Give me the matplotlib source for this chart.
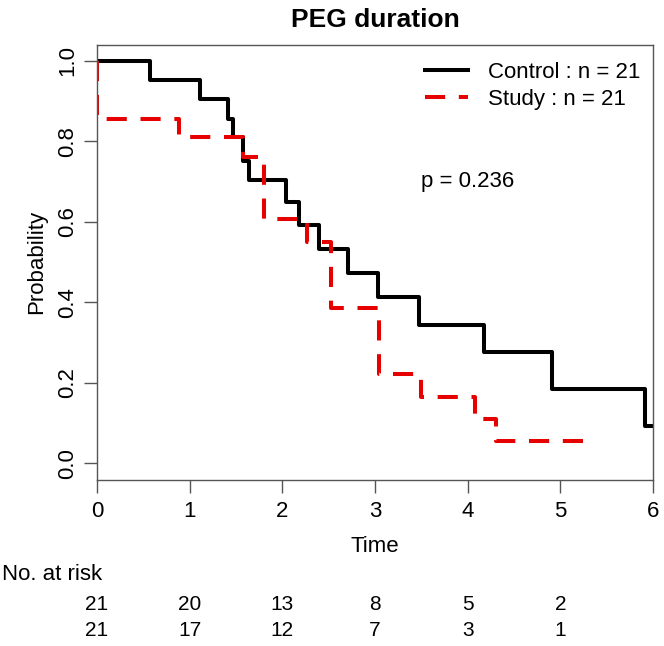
import numpy as np
import matplotlib.pyplot as plt
import matplotlib.transforms as mtransforms

plt.rcParams['font.family'] = ['Liberation Sans', 'DejaVu Sans']

# Kaplan-Meier steps (time, survival after the step)
ctrl_t = [0, 0.57, 1.11, 1.41, 1.47, 1.58, 1.64, 2.04, 2.18, 2.40, 2.71, 3.03, 3.48, 4.18, 4.91, 5.91, 5.99]
ctrl_s = [1.0, 0.952, 0.905, 0.857, 0.810, 0.752, 0.704, 0.650, 0.592, 0.532, 0.473, 0.414, 0.345, 0.276, 0.184, 0.092, 0.092]
study_t = [0, 0, 0.88, 1.575, 1.80, 2.27, 2.53, 3.04, 3.50, 4.08, 4.31, 5.27]
study_s = [1.0, 0.857, 0.810, 0.762, 0.607, 0.551, 0.385, 0.221, 0.166, 0.110, 0.055, 0.055]

risk_times = [0, 1, 2, 3, 4, 5]
risk_ctrl = [21, 20, 13, 8, 5, 2]
risk_study = [21, 17, 12, 7, 3, 1]

W, H = 664, 646
fs = 16
fig = plt.figure(figsize=(W / 100, H / 100), dpi=100)
ax = fig.add_axes([97 / W, 1 - 480 / H, (653 - 97) / W, (480 - 44.7) / H])

ax.plot(ctrl_t, ctrl_s, drawstyle='steps-post', color='black', lw=2.9,
        label='Control : n = 21')
ax.plot(study_t, study_s, drawstyle='steps-post', color='#e60000', lw=2.9,
        dashes=(5, 3.4), label='Study : n = 21')

ax.set_xlim(0, 6)
ax.set_ylim(-0.0415, 1.0405)
ax.set_xticks(range(7))
ax.set_yticks([0, 0.2, 0.4, 0.6, 0.8, 1.0])
ax.set_yticklabels(['0.0', '0.2', '0.4', '0.6', '0.8', '1.0'], rotation=90, va='center')
ax.tick_params(length=9.4, width=1.0, color='#555555', labelsize=fs, pad=6)
ax.tick_params(axis='y', pad=4)
for sp in ax.spines.values():
    sp.set_color('#555555')
    sp.set_linewidth(1.0)

ax.set_title('PEG duration', fontsize=19, fontweight='bold', pad=12.5)
fig.text(375 / W, 1 - 546 / H, 'Time', ha='center', va='center', fontsize=fs)
fig.text(37 / W, 1 - 262 / H, 'Probability', ha='center', va='center',
         rotation=90, fontsize=fs)

ax.legend(loc='center left', bbox_to_anchor=(425 / W, 1 - 86 / H),
          bbox_transform=fig.transFigure, frameon=False, fontsize=fs,
          borderaxespad=0, borderpad=0,
          handlelength=1.94, handletextpad=0.9, labelspacing=0.27)
fig.text(421 / W, 1 - 182 / H, 'p = 0.236', ha='left', va='center', fontsize=fs)

# number at risk table
fig.text(2 / W, 1 - 575 / H, 'No. at risk', ha='left', va='center', fontsize=fs)
trans = mtransforms.blended_transform_factory(ax.transData, fig.transFigure)
for t, a, b in zip(risk_times, risk_ctrl, risk_study):
    ax.text(t, 1 - 605 / H, str(a), transform=trans, ha='center', va='center',
            fontsize=15, clip_on=False)
    ax.text(t, 1 - 631 / H, str(b), transform=trans, ha='center', va='center',
            fontsize=15, clip_on=False)

fig.savefig('out.png', dpi=100)
